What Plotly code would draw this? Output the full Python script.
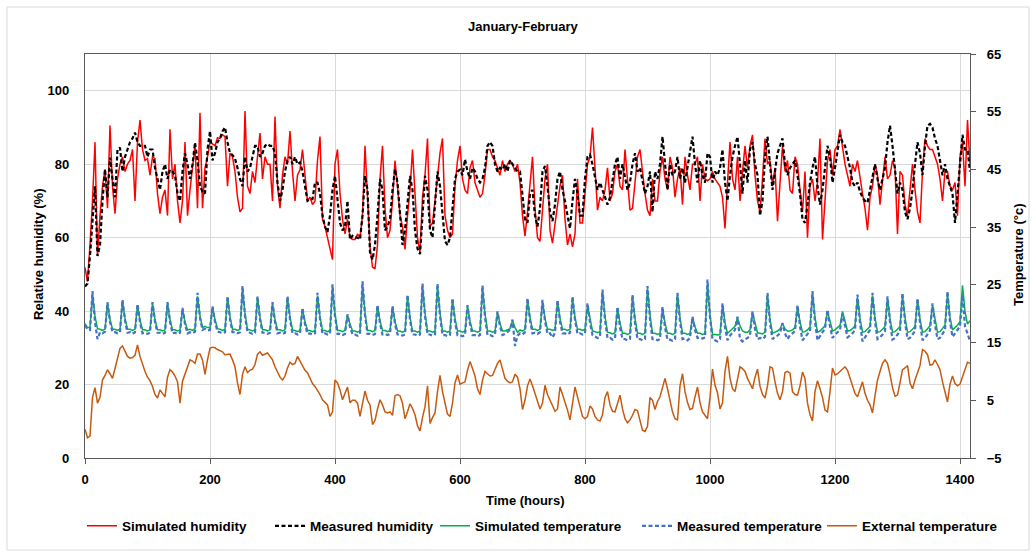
import plotly.graph_objects as go

STEP_HOURS = 4

sim_humidity = [
    51.9, 48.0, 58.0, 70.0, 86.0, 55.0, 66.0, 74.0, 78.6, 68.0,
    90.5, 74.0, 66.5, 76.0, 80.0, 82.0, 78.0, 80.0, 81.0, 84.0,
    70.0, 86.0, 92.0, 84.0, 81.0, 81.5, 77.0, 82.0, 81.5, 72.0,
    66.5, 71.0, 73.0, 66.0, 89.5, 76.0, 80.0, 70.0, 64.0, 70.0,
    86.0, 66.0, 73.0, 80.0, 85.0, 68.0, 94.0, 68.0, 79.0, 82.0,
    86.0, 85.5, 85.0, 87.2, 87.0, 88.0, 87.5, 74.0, 83.0, 82.0,
    78.0, 71.0, 67.0, 68.0, 94.5, 74.0, 72.0, 78.0, 75.0, 82.0,
    88.5, 76.0, 82.0, 80.0, 80.0, 70.0, 93.0, 74.0, 68.0, 77.0,
    82.0, 80.0, 89.0, 78.0, 70.0, 77.0, 78.5, 84.0, 76.0, 70.0,
    71.0, 69.0, 70.0, 81.0, 87.5, 65.0, 63.0, 60.0, 57.0, 54.0,
    80.0, 84.0, 72.0, 65.0, 61.0, 65.0, 60.0, 59.5, 59.5, 61.0,
    60.0, 66.0, 85.0, 71.0, 57.5, 52.0, 51.5, 58.0, 76.0, 85.0,
    68.0, 60.0, 62.0, 70.0, 81.0, 74.0, 66.0, 63.0, 56.8, 66.0,
    73.0, 84.0, 70.0, 60.0, 56.0, 71.0, 77.0, 87.0, 63.0, 64.0,
    70.0, 76.0, 83.0, 87.0, 66.0, 62.0, 60.0, 61.0, 74.0, 81.0,
    85.0, 76.0, 73.0, 72.0, 79.0, 81.0, 75.0, 73.0, 71.0, 72.0,
    77.0, 84.0, 84.0, 82.0, 81.0, 79.0, 77.0, 81.0, 78.0, 80.0,
    81.0, 80.0, 78.0, 80.0, 75.0, 66.0, 60.4, 67.0, 74.0, 82.0,
    68.0, 60.0, 59.0, 68.0, 76.0, 80.0, 62.0, 58.5, 64.0, 70.0,
    74.0, 77.0, 65.0, 58.0, 61.0, 57.5, 61.0, 76.0, 64.0, 64.0,
    72.0, 80.0, 82.0, 90.0, 79.0, 67.5, 71.0, 70.0, 73.0, 79.0,
    70.0, 72.0, 78.0, 80.0, 74.0, 73.0, 84.0, 75.0, 67.5, 68.0,
    75.0, 82.0, 84.0, 77.0, 72.0, 67.5, 66.0, 76.0, 70.0, 70.0,
    78.0, 82.0, 76.0, 73.0, 82.0, 79.0, 71.0, 76.0, 79.0, 69.0,
    82.0, 77.0, 73.0, 80.0, 80.0, 82.0, 70.0, 80.0, 76.0, 75.5,
    76.0, 78.0, 76.0, 75.0, 74.0, 71.0, 62.5, 75.0, 86.0, 76.0,
    73.0, 82.0, 70.0, 78.0, 85.0, 79.0, 85.0, 88.0, 77.0, 70.0,
    67.0, 76.0, 87.0, 80.0, 81.0, 74.0, 79.0, 64.5, 74.0, 85.0,
    78.0, 81.0, 73.0, 72.0, 82.0, 80.0, 73.0, 67.0, 78.0, 60.0,
    74.0, 76.0, 70.0, 75.0, 87.0, 59.5, 70.0, 81.0, 84.0, 77.0,
    84.0, 85.0, 89.5, 84.0, 80.0, 77.0, 74.0, 80.0, 78.0, 81.0,
    76.0, 72.0, 68.0, 62.0, 71.0, 74.0, 80.0, 77.0, 69.0, 76.0,
    82.0, 76.0, 77.0, 81.0, 79.0, 61.0, 78.0, 77.0, 69.0, 66.0,
    73.0, 80.0, 73.0, 67.0, 64.0, 78.0, 87.0, 85.0, 84.0, 84.0,
    82.0, 80.0, 76.0, 70.0, 78.0, 78.0, 74.0, 73.0, 75.0, 66.0,
    82.0, 86.0, 74.0, 92.0, 80.0,
]

meas_humidity = [
    46.7, 47.5, 55.0, 65.0, 74.0, 55.0, 58.0, 70.0, 78.6, 71.0,
    81.8, 76.0, 71.0, 84.0, 84.5, 78.0, 82.0, 84.0, 86.0, 87.0,
    88.6, 86.0, 85.0, 85.0, 85.0, 82.0, 84.0, 84.0, 79.0, 76.0,
    73.0, 78.0, 80.0, 76.0, 78.5, 78.0, 77.0, 72.0, 70.0, 78.0,
    83.0, 80.0, 76.0, 80.0, 85.9, 81.0, 74.0, 72.5, 72.0, 84.0,
    89.0, 81.0, 83.0, 86.0, 87.0, 89.0, 90.0, 86.0, 83.0, 82.5,
    81.5, 79.0, 76.0, 74.0, 82.0, 78.0, 79.0, 82.0, 85.0, 85.0,
    82.0, 83.0, 85.0, 85.5, 85.0, 85.0, 83.0, 75.0, 70.0, 73.0,
    78.0, 81.0, 82.0, 80.0, 82.0, 80.0, 80.5, 78.0, 74.0, 70.0,
    70.5, 70.5, 75.0, 75.0, 72.0, 66.0, 63.0, 61.5, 66.0, 73.0,
    76.8, 70.0, 64.0, 62.0, 63.0, 70.0, 59.5, 60.5, 60.0, 60.0,
    59.5, 66.0, 76.8, 73.0, 56.0, 54.0, 58.0, 66.0, 76.0, 73.0,
    62.0, 63.0, 65.0, 73.0, 78.6, 75.0, 67.0, 58.0, 62.0, 70.0,
    76.8, 73.0, 62.0, 57.0, 55.5, 66.0, 76.8, 73.0, 62.0, 60.0,
    70.0, 78.0, 74.0, 66.0, 59.0, 58.0, 60.0, 68.0, 76.0, 78.0,
    78.5, 77.0, 81.3, 78.0, 76.0, 79.0, 78.0, 76.0, 75.0, 76.0,
    79.0, 85.0, 86.0, 85.0, 80.0, 78.0, 79.0, 78.5, 80.0, 78.0,
    81.0, 80.0, 79.0, 78.0, 78.0, 72.0, 65.0, 64.0, 72.0, 73.0,
    66.0, 63.0, 68.0, 78.0, 79.5, 74.0, 67.0, 64.5, 69.0, 76.0,
    78.0, 73.0, 70.0, 66.0, 62.5, 70.0, 76.0, 72.0, 66.0, 66.0,
    76.0, 82.0, 82.6, 80.0, 76.0, 73.0, 75.0, 73.0, 71.0, 69.0,
    71.0, 76.0, 80.0, 82.0, 76.0, 80.0, 76.0, 73.0, 75.0, 80.0,
    83.0, 78.0, 79.0, 75.0, 72.0, 74.0, 78.0, 67.0, 78.0, 76.0,
    80.0, 87.5, 79.0, 73.0, 80.0, 77.0, 78.0, 82.0, 76.0, 79.0,
    75.0, 79.0, 83.0, 87.5, 80.0, 75.0, 81.0, 77.0, 75.0, 83.0,
    82.0, 75.0, 78.0, 77.0, 79.0, 84.0, 75.0, 70.0, 77.0, 82.0,
    85.0, 87.5, 80.0, 72.0, 81.0, 75.0, 84.0, 86.0, 80.0, 77.0,
    66.0, 70.0, 82.0, 87.5, 80.0, 73.0, 78.0, 83.0, 85.0, 87.0,
    80.0, 77.0, 79.0, 80.0, 81.0, 77.0, 72.0, 65.0, 64.0, 69.0,
    75.0, 79.0, 82.0, 74.0, 69.0, 73.0, 80.0, 85.0, 82.0, 75.0,
    79.0, 83.0, 88.0, 86.0, 85.0, 82.0, 79.0, 75.0, 74.0, 75.0,
    72.5, 71.0, 70.0, 69.5, 73.0, 76.0, 80.0, 76.0, 73.0, 76.0,
    79.0, 86.0, 90.5, 85.0, 78.0, 72.0, 75.0, 73.0, 67.0, 65.0,
    68.0, 73.0, 80.0, 86.0, 83.0, 77.0, 85.0, 90.5, 91.0, 90.0,
    87.0, 85.0, 81.0, 77.0, 80.0, 76.0, 74.0, 72.0, 64.0, 72.0,
    82.0, 88.0, 84.0, 84.0, 78.0,
]

# one row per day: hours 0, 4, 8, 12, 16, 20
sim_temp = [
    18.3, 17.6, 17.6, 23.3, 19.6, 17.4,
    17.3, 17.1, 17.3, 21.8, 19.0, 17.3,
    17.3, 17.1, 17.3, 22.2, 19.2, 17.3,
    17.3, 17.1, 17.3, 21.5, 18.9, 17.2,
    17.2, 17.0, 17.2, 21.8, 19.0, 17.2,
    17.2, 17.0, 17.2, 21.8, 19.0, 17.2,
    17.2, 17.0, 17.2, 20.8, 18.6, 17.2,
    17.3, 17.1, 17.4, 23.0, 19.6, 17.6,
    17.8, 17.6, 17.6, 21.1, 19.0, 17.4,
    17.3, 17.1, 17.3, 22.8, 19.5, 17.3,
    17.3, 17.1, 17.3, 24.3, 20.0, 17.3,
    17.2, 17.0, 17.2, 22.8, 19.4, 17.2,
    17.2, 17.0, 17.2, 21.8, 19.0, 17.2,
    17.2, 17.0, 17.2, 22.8, 19.4, 17.2,
    17.1, 16.9, 17.1, 20.8, 18.6, 17.1,
    17.1, 16.9, 17.1, 23.1, 19.5, 17.1,
    17.1, 16.9, 17.1, 24.5, 20.0, 17.1,
    17.1, 16.9, 17.1, 19.7, 18.2, 17.0,
    17.0, 16.8, 17.0, 25.0, 20.2, 17.1,
    17.1, 16.9, 17.1, 21.3, 18.8, 17.1,
    17.1, 16.9, 17.1, 21.1, 18.7, 17.0,
    17.0, 16.8, 17.0, 23.0, 19.4, 17.0,
    17.0, 16.8, 17.0, 24.8, 20.1, 17.0,
    17.0, 16.8, 17.0, 24.8, 20.1, 17.0,
    17.0, 16.8, 17.0, 22.4, 19.2, 17.0,
    17.0, 16.8, 17.0, 21.3, 18.7, 17.0,
    17.0, 16.8, 17.0, 24.5, 20.0, 17.0,
    17.0, 16.8, 17.0, 20.2, 18.3, 17.0,
    17.0, 17.2, 17.4, 18.8, 17.6, 16.8,
    17.2, 17.0, 17.3, 22.3, 19.3, 17.3,
    17.3, 17.1, 17.3, 22.1, 19.2, 17.3,
    17.3, 17.1, 17.3, 22.1, 19.2, 17.3,
    17.3, 17.1, 17.3, 22.6, 19.4, 17.3,
    17.3, 17.1, 17.3, 21.5, 19.0, 17.0,
    16.9, 16.7, 16.9, 23.8, 19.6, 16.8,
    16.7, 16.5, 16.7, 20.9, 18.4, 16.6,
    16.6, 16.4, 16.6, 23.0, 19.2, 16.6,
    16.6, 16.4, 16.6, 24.4, 19.8, 16.6,
    16.6, 16.4, 16.6, 20.9, 18.4, 16.6,
    16.6, 16.4, 16.6, 23.3, 19.3, 16.6,
    16.6, 16.4, 16.6, 19.3, 17.8, 16.6,
    16.6, 16.4, 16.6, 25.2, 19.8, 16.4,
    16.4, 16.3, 16.4, 21.5, 18.4, 16.6,
    17.0, 17.4, 17.8, 19.3, 17.9, 17.0,
    16.8, 16.8, 17.2, 20.2, 18.2, 16.7,
    16.6, 16.5, 16.8, 23.2, 19.0, 16.6,
    16.8, 17.0, 17.4, 18.3, 17.4, 17.0,
    17.0, 17.2, 17.6, 21.2, 18.6, 16.8,
    16.9, 17.2, 17.7, 23.5, 19.4, 16.8,
    17.0, 17.4, 17.9, 20.4, 18.5, 17.0,
    17.2, 17.6, 18.0, 20.4, 18.6, 17.0,
    17.1, 17.4, 17.9, 22.9, 19.2, 16.8,
    16.9, 17.3, 17.8, 23.2, 19.3, 16.8,
    16.9, 17.3, 17.8, 22.7, 19.2, 16.8,
    16.9, 17.3, 17.8, 23.2, 19.3, 16.8,
    16.9, 17.3, 17.8, 22.4, 19.1, 16.8,
    16.9, 17.4, 17.9, 21.5, 18.8, 16.8,
    16.9, 17.4, 18.0, 23.5, 19.4, 17.2,
    17.6, 18.0, 18.6, 24.9, 20.4, 18.2,
    18.8,
]

meas_temp = [
    18.0, 17.3, 17.2, 23.9, 18.5, 15.6,
    16.8, 16.6, 16.9, 22.0, 18.6, 16.8,
    16.8, 16.6, 16.8, 22.4, 18.8, 16.7,
    16.8, 16.5, 16.8, 21.7, 18.5, 16.6,
    16.7, 16.5, 16.7, 22.0, 18.6, 16.7,
    16.7, 16.5, 16.7, 22.0, 18.6, 16.6,
    16.7, 16.5, 16.7, 21.0, 18.2, 16.6,
    16.8, 16.6, 16.9, 23.6, 19.2, 17.2,
    17.4, 17.1, 17.2, 21.3, 18.6, 16.9,
    16.8, 16.6, 16.8, 23.0, 19.0, 16.8,
    16.8, 16.6, 16.8, 24.8, 19.6, 16.8,
    16.7, 16.5, 16.7, 23.0, 19.0, 16.7,
    16.7, 16.5, 16.7, 22.0, 18.6, 16.6,
    16.7, 16.5, 16.7, 23.0, 19.0, 16.6,
    16.6, 16.4, 16.6, 21.0, 18.2, 16.5,
    16.6, 16.4, 16.6, 23.6, 19.1, 16.5,
    16.6, 16.4, 16.6, 25.1, 19.6, 16.5,
    16.5, 16.3, 16.5, 19.9, 17.7, 16.4,
    16.4, 16.2, 16.5, 25.6, 19.8, 16.5,
    16.5, 16.3, 16.5, 21.5, 18.3, 16.4,
    16.5, 16.3, 16.5, 21.3, 18.2, 16.4,
    16.4, 16.2, 16.4, 23.3, 18.9, 16.4,
    16.4, 16.2, 16.4, 25.2, 19.6, 16.4,
    16.4, 16.2, 16.4, 25.2, 19.6, 16.3,
    16.3, 16.1, 16.3, 22.7, 18.6, 16.3,
    16.3, 16.1, 16.3, 21.5, 18.2, 16.3,
    16.3, 16.1, 16.3, 24.9, 19.4, 16.3,
    16.3, 16.1, 16.4, 20.4, 17.8, 16.3,
    16.5, 16.9, 17.2, 19.0, 14.4, 16.2,
    16.6, 16.4, 16.8, 22.7, 18.8, 16.6,
    16.7, 16.5, 16.8, 22.4, 18.7, 16.5,
    16.6, 15.9, 16.7, 22.4, 18.6, 16.6,
    16.6, 16.4, 16.7, 23.0, 18.9, 16.5,
    16.6, 16.4, 16.6, 21.8, 18.5, 16.3,
    16.0, 15.8, 16.0, 24.2, 18.9, 15.8,
    15.8, 15.5, 15.7, 21.2, 17.6, 15.6,
    15.6, 15.4, 15.6, 23.3, 18.4, 15.6,
    15.6, 15.4, 15.6, 24.8, 19.0, 15.6,
    15.6, 15.4, 15.6, 21.2, 17.6, 15.5,
    15.5, 15.3, 15.6, 23.6, 18.6, 15.6,
    15.7, 15.4, 15.8, 19.5, 17.2, 15.8,
    15.9, 15.7, 15.9, 25.9, 19.4, 15.6,
    15.4, 15.2, 15.6, 21.8, 17.6, 15.4,
    16.2, 16.8, 17.2, 19.5, 15.6, 15.2,
    15.6, 15.8, 16.2, 20.4, 17.4, 15.6,
    15.8, 15.6, 16.0, 23.6, 18.4, 15.6,
    16.0, 16.2, 16.6, 18.4, 16.6, 15.6,
    16.3, 16.6, 17.0, 21.5, 17.8, 15.4,
    16.0, 16.4, 17.0, 23.9, 18.6, 15.4,
    16.2, 16.8, 17.4, 20.7, 17.8, 15.8,
    16.4, 16.8, 17.2, 20.0, 17.8, 15.9,
    16.2, 16.6, 17.2, 23.3, 18.4, 15.2,
    15.9, 16.5, 17.2, 23.6, 18.6, 15.6,
    15.9, 16.4, 17.0, 23.0, 18.5, 15.5,
    15.8, 16.4, 17.0, 23.6, 18.6, 15.6,
    15.8, 16.4, 17.0, 22.7, 18.4, 15.4,
    15.8, 16.4, 17.1, 21.8, 18.1, 15.6,
    15.8, 16.5, 17.2, 23.9, 18.6, 16.0,
    16.6, 17.2, 17.8, 23.2, 17.8, 16.6,
    15.2,
]

ext_temp = [
    0.0, -1.5, -1.2, 5.5, 7.2, 4.5, 5.5, 8.5, 9.3, 10.3,
    9.6, 8.8, 10.5, 12.5, 14.0, 14.4, 13.5, 12.6, 12.3, 12.4,
    12.8, 14.6, 12.6, 11.2, 10.0, 9.0, 8.4, 7.4, 6.0, 5.4,
    6.8, 6.2, 5.6, 9.0, 10.3, 9.9, 9.2, 8.2, 4.5, 8.3,
    9.6, 10.8, 12.0, 11.8, 11.4, 13.0, 13.0, 12.0, 9.5, 12.0,
    14.0, 14.2, 14.1, 13.8, 13.6, 13.4, 12.9, 12.9, 13.0, 12.0,
    10.8, 8.0, 6.0, 9.5, 10.8, 9.8, 10.2, 10.4, 11.2, 13.0,
    13.4, 12.8, 13.0, 13.2, 12.6, 12.0, 10.8, 9.8, 9.0, 8.5,
    9.2, 10.6, 11.6, 11.2, 11.4, 12.6, 11.8, 10.9, 10.2, 9.8,
    8.8, 7.9, 7.4, 6.8, 6.0, 5.1, 4.6, 4.2, 2.2, 3.0,
    8.5, 8.0, 6.8, 5.1, 6.2, 7.3, 4.6, 5.0, 5.0, 4.5,
    2.2, 4.5, 6.6, 5.0, 4.2, 0.8, 1.5, 3.5, 5.1, 4.2,
    3.0, 2.8, 3.0, 2.4, 5.8, 6.0, 5.8, 4.5, 1.8, 3.0,
    4.4, 3.6, 2.5, 0.6, -0.3, 2.0, 3.9, 7.5, 1.0, 2.0,
    2.8, 6.5, 9.3, 6.5, 4.8, 2.6, 2.2, 4.5, 8.0, 9.4,
    7.8, 8.0, 8.2, 10.2, 11.7, 10.5, 9.2, 7.0, 6.0, 8.5,
    10.0, 9.6, 9.2, 9.3, 10.2, 11.4, 12.0, 10.6, 8.8, 8.3,
    8.0, 8.2, 9.5, 9.0, 7.0, 3.4, 5.0, 7.5, 8.7, 7.5,
    6.2, 4.6, 3.5, 4.5, 7.6, 6.0, 5.0, 4.0, 3.1, 3.5,
    7.3, 6.0, 4.8, 3.3, 1.6, 4.5, 7.3, 5.6, 3.8, 2.2,
    1.8, 2.2, 4.0, 3.5, 2.2, 1.6, 1.4, 2.5, 5.5, 6.5,
    4.2, 3.1, 3.0, 4.4, 5.9, 3.5, 1.8, 1.1, 1.6, 2.4,
    3.4, 3.2, 1.2, -0.2, -0.4, 0.5, 5.5, 5.0, 3.4, 4.8,
    5.6, 7.4, 8.8, 7.0, 4.8, 3.0, 1.8, 1.6, 7.5, 9.6,
    6.5, 4.6, 3.4, 3.6, 5.6, 7.3, 4.6, 3.0, 2.4, 1.8,
    5.5, 10.4, 7.6, 6.3, 3.5, 4.5, 10.0, 12.6, 8.8, 7.0,
    6.5, 8.5, 10.8, 10.5, 10.0, 8.8, 7.8, 7.0, 9.0, 10.4,
    7.4, 6.0, 5.4, 7.5, 10.8, 10.6, 8.2, 6.2, 5.1, 6.5,
    9.8, 10.0, 9.7, 6.5, 6.0, 5.9, 7.5, 9.9, 8.8, 4.5,
    2.5, 1.4, 6.5, 8.4, 7.0, 5.5, 3.3, 3.0, 6.5, 10.6,
    9.4, 9.6, 10.0, 10.4, 10.8, 10.2, 8.8, 7.2, 6.2, 5.6,
    7.0, 8.2, 6.2, 5.0, 4.2, 2.8, 5.8, 8.5, 10.0, 11.4,
    12.0, 11.4, 9.5, 7.2, 5.7, 5.9, 8.0, 10.3, 10.6, 11.0,
    8.0, 7.0, 8.5, 9.6, 11.0, 13.8, 13.5, 12.9, 11.1, 11.2,
    12.0, 11.2, 10.3, 8.2, 6.4, 4.7, 7.8, 9.2, 7.9, 7.5,
    7.8, 9.0, 10.2, 11.6, 11.4,
]

series_names = ["Simulated humidity", "Measured humidity", "Simulated temperature",
                "Measured temperature", "External temperature"]

x_ticks = [0, 200, 400, 600, 800, 1000, 1200, 1400]
rh_ticks = [0, 20, 40, 60, 80, 100]
temp_ticks = [-5, 5, 15, 25, 35, 45, 55, 65]


def hours(series):
    return [STEP_HOURS * i for i in range(len(series))]


# ---------------- figure ----------------
FONT = "Liberation Sans Narrow, Arial Narrow, Liberation Sans, sans-serif"
W, H = 1036, 557
L, R, T, B = 85, 66, 54, 99
PW, PH = W - L - R, H - T - B


def px_x(px):
    return (px - L) / PW


def px_y(py):
    return (H - B - py) / PH


legend_ids = ["legend", "legend2", "legend3", "legend4", "legend5"]
legend_left_px = [82, 270, 435, 637, 822]

fig = go.Figure()
fig.add_trace(go.Scatter(x=hours(sim_humidity), y=sim_humidity, name=series_names[0],
                         mode="lines", line=dict(color="#FF0000", width=1.5), yaxis="y",
                         legend=legend_ids[0]))
fig.add_trace(go.Scatter(x=hours(meas_humidity), y=meas_humidity, name=series_names[1],
                         mode="lines", line=dict(color="#000000", width=2.2, dash="4px,2.5px"),
                         yaxis="y", legend=legend_ids[1]))
fig.add_trace(go.Scatter(x=hours(sim_temp), y=sim_temp, name=series_names[2],
                         mode="lines", line=dict(color="#00B050", width=1.5), yaxis="y2",
                         legend=legend_ids[2]))
fig.add_trace(go.Scatter(x=hours(meas_temp), y=meas_temp, name=series_names[3],
                         mode="lines", line=dict(color="#4472C4", width=2.2, dash="4px,2.5px"),
                         yaxis="y2", legend=legend_ids[3]))
fig.add_trace(go.Scatter(x=hours(ext_temp), y=ext_temp, name=series_names[4],
                         mode="lines", line=dict(color="#C55A11", width=1.5), yaxis="y2",
                         legend=legend_ids[4]))

tick_font = dict(family=FONT, size=13, color="#000000", weight="bold")
legend_font = dict(family=FONT, size=13.5, color="#000000", weight="bold")

legend_layout = {}
for lid, left in zip(legend_ids, legend_left_px):
    legend_layout[lid] = dict(orientation="h", x=px_x(left), xanchor="left",
                              y=px_y(526), yanchor="middle", font=legend_font,
                              itemwidth=30, bgcolor="rgba(0,0,0,0)")

fig.update_layout(
    width=W, height=H,
    margin=dict(l=L, r=R, t=T, b=B),
    paper_bgcolor="white", plot_bgcolor="white",
    font=dict(family=FONT, size=13, color="#000000"),
    showlegend=True,
    xaxis=dict(range=[0, 1416], tickvals=x_ticks, showgrid=True, gridcolor="#D9D9D9",
               gridwidth=1, zeroline=False, showline=True, linecolor="#595959", linewidth=1.3,
               mirror=True, ticks="outside", ticklen=5, tickcolor="#595959",
               tickfont=tick_font, ticklabelstandoff=4),
    yaxis=dict(range=[0, 110], tickvals=rh_ticks, showgrid=True, gridcolor="#D9D9D9",
               gridwidth=1, zeroline=False, showline=True, linecolor="#595959", linewidth=1.3,
               ticks="", tickfont=tick_font, ticklabelstandoff=12),
    yaxis2=dict(range=[-5, 65], tickvals=temp_ticks, overlaying="y", side="right",
                showgrid=False, zeroline=False, showline=True, linecolor="#595959",
                linewidth=1.3, ticks="outside", ticklen=5, tickcolor="#595959",
                tickfont=tick_font, ticklabelstandoff=8),
    **legend_layout,
)

title_font = dict(family=FONT, size=13, color="#000000", weight="bold")
fig.add_annotation(text="January-February", xref="paper", yref="paper",
                   x=px_x(523), y=px_y(27), showarrow=False, font=title_font,
                   xanchor="center", yanchor="middle")
fig.add_annotation(text="Time (hours)", xref="paper", yref="paper",
                   x=px_x(525), y=px_y(500), showarrow=False, font=title_font,
                   xanchor="center", yanchor="middle")
fig.add_annotation(text="Relative humidity (%)", xref="paper", yref="paper",
                   x=px_x(38), y=px_y(255), showarrow=False, font=title_font,
                   textangle=-90, xanchor="center", yanchor="middle")
fig.add_annotation(text="Temperature (°c)", xref="paper", yref="paper",
                   x=px_x(1018), y=px_y(255), showarrow=False, font=title_font,
                   textangle=-90, xanchor="center", yanchor="middle")

# outer chart border
fig.add_shape(type="rect", xref="paper", yref="paper",
              x0=px_x(7), x1=px_x(1029), y0=px_y(550), y1=px_y(7),
              line=dict(color="#D9D9D9", width=1), fillcolor="rgba(0,0,0,0)", layer="below")

fig.write_html("out.html")
